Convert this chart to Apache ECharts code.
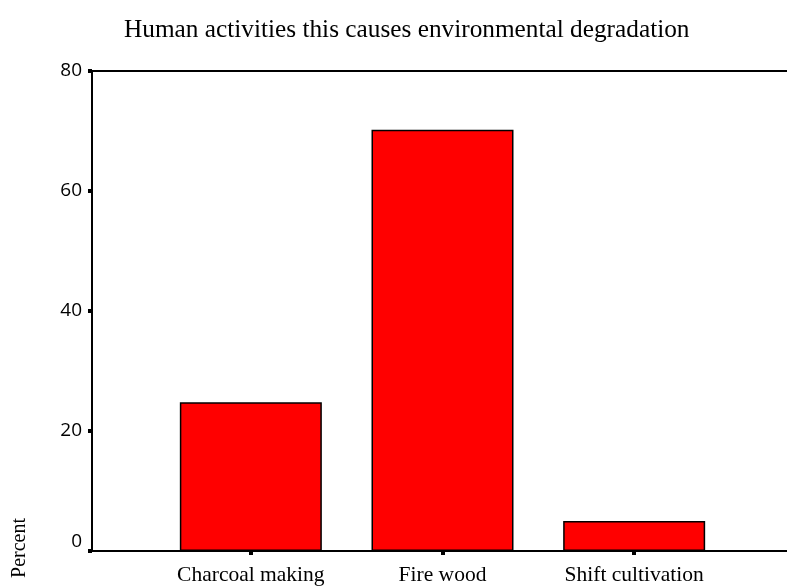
<!DOCTYPE html>
<html>
<head>
<meta charset="utf-8">
<script src="https://cdn.jsdelivr.net/npm/echarts@6/dist/echarts.min.js"></script>
<style>
  html, body { margin: 0; padding: 0; background: #fff; }
  #chart { width: 787px; height: 587px; }
</style>
</head>
<body>
<div id="chart"></div>
<script>
// data
var categories = ["Charcoal making", "Fire wood", "Shift cultivation"];
var percents = [24.8, 70.2, 5.0];
var yTicks = [0, 20, 40, 60, 80];

var myChart = echarts.init(document.getElementById("chart"));
var serif = "'Liberation Serif', 'Times New Roman', serif";
var blackLine = { color: "#000", width: 2 };

var option = {
  animation: false,
  backgroundColor: "#fff",
  title: {
    text: "Human activities this causes environmental degradation",
    left: 119,
    top: 13,
    textStyle: { fontFamily: serif, fontWeight: "normal", fontSize: 25.3, color: "#000" }
  },
  graphic: [
    {
      type: "text",
      x: 20,
      y: 548,
      rotation: Math.PI / 2,
      style: {
        text: "Percent",
        font: "20px " + serif,
        fill: "#000",
        align: "center",
        verticalAlign: "middle"
      }
    }
  ],
  grid: [
    // outer frame: left axis, top line, long bottom line
    { left: 92, top: 71, right: 0, bottom: 36 },
    // bars
    { left: 155, width: 575, top: 71, bottom: 36 }
  ],
  xAxis: [
    { gridIndex: 0, type: "value", position: "bottom", min: 0, max: 1,
      axisLine: { show: true, onZero: false, lineStyle: blackLine },
      axisTick: { show: false }, axisLabel: { show: false }, splitLine: { show: false } },
    { gridIndex: 0, type: "value", position: "top", min: 0, max: 1,
      axisLine: { show: true, onZero: false, lineStyle: blackLine },
      axisTick: { show: false }, axisLabel: { show: false }, splitLine: { show: false } },
    {
      gridIndex: 1,
      type: "category",
      data: categories,
      axisLine: { show: false },
      axisTick: { show: true, interval: 0, alignWithLabel: true, length: 4, lineStyle: { color: "#000", width: 4 } },
      axisLabel: { interval: 0, hideOverlap: false, fontFamily: serif, fontSize: 21.5, color: "#000", margin: 13 }
    }
  ],
  yAxis: [
    {
      gridIndex: 0,
      type: "value",
      min: yTicks[0],
      max: yTicks[yTicks.length - 1],
      interval: 20,
      splitLine: { show: false },
      axisLine: { show: true, onZero: false, lineStyle: blackLine },
      axisTick: { show: true, length: 4, lineStyle: { color: "#000", width: 4 } },
      axisLabel: {
        fontFamily: "'Open Sans', sans-serif",
        fontSize: 19,
        color: "#000",
        margin: 10,
        formatter: function (v) { return v === 0 ? "{z|0}" : String(v); },
        rich: { z: { fontFamily: "'Open Sans', sans-serif", fontSize: 19, color: "#000", padding: [0, 0, 18, 0] } }
      }
    },
    { gridIndex: 1, type: "value", show: false, min: 0, max: 80 }
  ],
  series: [
    {
      type: "bar",
      xAxisIndex: 2,
      yAxisIndex: 1,
      data: percents,
      barWidth: 142,
      itemStyle: { color: "#ff0000", borderColor: "#000", borderWidth: 1.5 }
    }
  ]
};

option && myChart.setOption(option);
</script>
</body>
</html>
